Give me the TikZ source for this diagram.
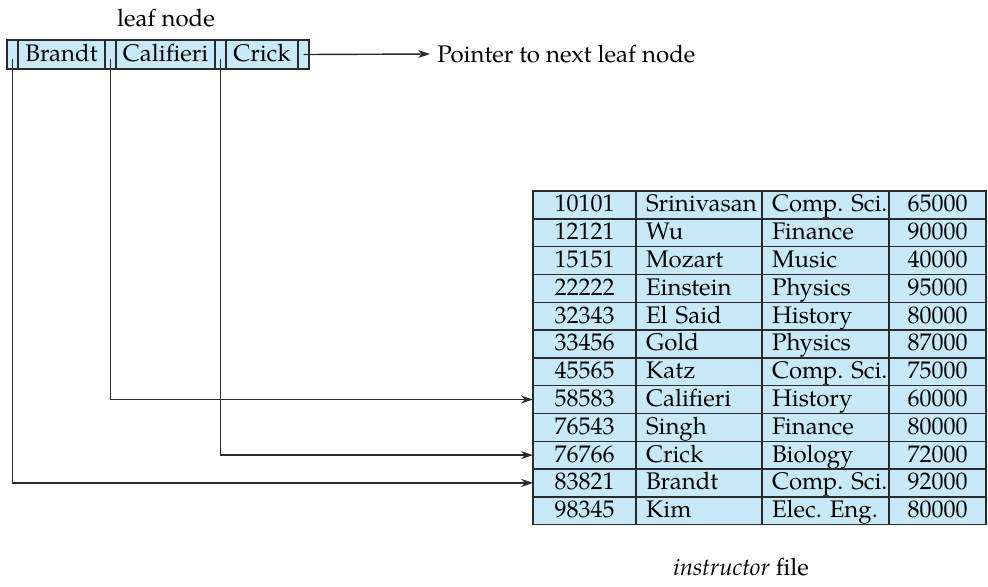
\documentclass[tikz,border=0pt]{standalone}
\usepackage{fontspec}
\setmainfont{TeX Gyre Pagella}
\usepackage{xcolor}
\definecolor{cellblue}{HTML}{C8EAF8}
\definecolor{ink}{HTML}{2A2A2A}
\usetikzlibrary{arrows.meta,positioning}
\frenchspacing
\tikzset{
  >={Stealth[length=6pt,width=4pt]},
  cell/.style   ={draw=ink,fill=cellblue,line width=0.7pt,inner sep=0pt,
                  outer sep=0pt,anchor=north west,
                  font=\fontsize{12}{14}\selectfont,
                  text height=9pt,text depth=2pt},
  ptrcell/.style={cell,minimum width=5.5pt,minimum height=14.5pt},
  keycell/.style={cell,minimum height=14.5pt},
  tcell/.style  ={cell,minimum height=13.9pt},
  ctrcell/.style={tcell,align=center},
  lftcell/.style={tcell,align=left,inner xsep=5pt},
  lbl/.style    ={font=\fontsize{12}{14}\selectfont,inner sep=0pt},
  ptr/.style    ={->,draw=ink,line width=0.7pt},
}

\begin{document}
\begin{tikzpicture}[x=0.5pt,y=-0.5pt]
\useasboundingbox (0,0) rectangle (988,586);
% leaf node
\node[lbl] (leaflbl) at (166,18) {leaf node};
\node[ptrcell] (p0) at (7,40) {};
\node[keycell,minimum width=43.5pt] (brandt) at (p0.north east) {Brandt};
\node[ptrcell] (p1) at (brandt.north east) {};
\node[keycell,minimum width=49.5pt] (califieri) at (p1.north east) {Califieri};
\node[ptrcell] (p2) at (califieri.north east) {};
\node[keycell,minimum width=36pt] (crick) at (p2.north east) {Crick};
\node[ptrcell] (p3) at (crick.north east) {};
\node[lbl,anchor=west,inner xsep=3.5pt] (nextlbl) at (430,54) {Pointer to next leaf node};
% instructor file
\foreach [count=\row] \id/\nm/\dept/\sal in {
    10101/Srinivasan/Comp. Sci./65000, 12121/Wu/Finance/90000,
    15151/Mozart/Music/40000, 22222/Einstein/Physics/95000,
    32343/El Said/History/80000, 33456/Gold/Physics/87000,
    45565/Katz/Comp. Sci./75000, 58583/Califieri/History/60000,
    76543/Singh/Finance/80000, 76766/Crick/Biology/72000,
    83821/Brandt/Comp. Sci./92000, 98345/Kim/Elec. Eng./80000}
  {\node[ctrcell,minimum width=51.5pt] (r\row-1) at (533,{191+(\row-1)*27.8}) {\id};
   \node[lftcell,text width=53pt] (r\row-2) at (r\row-1.north east) {\mbox{\nm}};
   \node[lftcell,text width=53.5pt] (r\row-3) at (r\row-2.north east) {\mbox{\dept}};
   \node[ctrcell,minimum width=48.5pt] (r\row-4) at (r\row-3.north east) {\sal};}
\node[lbl] (filelbl) at (741,567) {\textit{instructor} file};
% pointers
\draw[ptr] ([yshift=-2pt]p0.center) |- (r11-1.west);
\draw[ptr] ([yshift=-2pt]p1.center) |- (r8-1.west);
\draw[ptr] ([yshift=-2pt]p2.center) |- (r10-1.west);
\draw[ptr] (p3.center) -- (nextlbl.west);
\end{tikzpicture}
\end{document}
